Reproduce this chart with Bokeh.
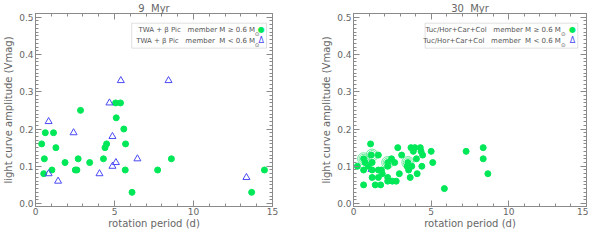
from bokeh.plotting import figure
from bokeh.layouts import row
from bokeh.models import (Range1d, SingleIntervalTicker, PrintfTickFormatter, LinearAxis,
                          CustomJSTickFormatter, BoxAnnotation, Label)
from bokeh.embed import file_html
from bokeh.resources import INLINE

# ---------------- data ----------------
# 9 Myr panel (TWA + beta Pic)
p9_hi_x = [0.39, 0.56, 0.52, 0.62, 1.04, 1.14, 1.29, 1.87, 2.52, 2.62, 2.70, 2.85, 3.43, 4.30,
           4.40, 4.50, 5.07, 5.38, 5.11, 5.59, 5.70, 5.68, 6.11, 7.73, 8.60, 13.68, 14.49]
p9_hi_y = [0.16, 0.12, 0.08, 0.19, 0.09, 0.19, 0.15, 0.11, 0.09, 0.09, 0.12, 0.25, 0.11, 0.12,
           0.15, 0.16, 0.27, 0.27, 0.23, 0.20, 0.16, 0.09, 0.03, 0.09, 0.12, 0.03, 0.09]
p9_lo_x = [0.83, 0.83, 1.43, 2.41, 4.05, 4.68, 4.87, 4.87, 5.09, 5.40, 6.45, 8.42, 13.35]
p9_lo_y = [0.22, 0.08, 0.06, 0.19, 0.08, 0.27, 0.18, 0.10, 0.11, 0.33, 0.12, 0.33, 0.07]

# 30 Myr panel (Tuc/Hor + Car + Col)
p30_hi_x = [0.25, 0.65, 0.65, 0.65, 0.75, 0.95, 1.10, 1.15, 1.20, 1.20, 1.20, 1.40, 1.60, 1.60,
            1.60, 1.75, 1.80, 1.85, 2.20, 2.20, 2.20, 2.20, 2.45, 2.50, 2.65, 2.75, 2.85, 2.95,
            3.10, 3.45, 3.50, 3.55, 3.65, 3.70, 3.75, 3.85, 3.95, 4.05, 4.10, 4.30, 4.35, 4.45,
            4.40, 5.00, 5.10, 5.85, 7.25, 8.35, 8.35, 8.65]
p30_hi_y = [0.10, 0.12, 0.09, 0.05, 0.11, 0.10, 0.16, 0.13, 0.11, 0.09, 0.07, 0.05, 0.13, 0.09,
            0.07, 0.05, 0.09, 0.08, 0.11, 0.10, 0.07, 0.06, 0.12, 0.06, 0.11, 0.06, 0.15, 0.08,
            0.13, 0.10, 0.11, 0.09, 0.07, 0.15, 0.10, 0.14, 0.15, 0.12, 0.08, 0.15, 0.14, 0.13,
            0.10, 0.14, 0.11, 0.04, 0.14, 0.15, 0.12, 0.08]
p30_ring_x = [0.65, 1.20, 2.20, 3.50]
p30_ring_y = [0.12, 0.13, 0.11, 0.11]
p30_lo_x = [1.10]
p30_lo_y = [0.09]

NB = "\u00a0"
titles = ["9  Myr", "30  Myr"]
legend_hi = ["TWA + \u03b2 Pic   member M \u2265 0.6 M", "Tuc/Hor+Car+Col   member M \u2265 0.6 M"]
legend_lo = ["TWA + \u03b2 Pic   member  M < 0.6 M", "Tuc/Hor+Car+Col   member  M < 0.6 M"]
x_label = "rotation period (d)"
y_label = "light curve amplitude (Vmag)"

GREEN = "#00e858"
BLUE = "#4a4af5"
RING = "#66ea98"
AX = "#8a8a8a"
TXT = "#666666"
FONT = "DejaVu Sans"


def nb(s):
    return s.replace(" ", NB)


def style_axis(ax, ticker, fmt=None, labels=True, std=2, lstd=1):
    ax.ticker = ticker
    ax.axis_line_color = AX
    ax.major_tick_line_color = AX
    ax.minor_tick_line_color = AX
    ax.major_tick_in = 6
    ax.major_tick_out = 0
    ax.minor_tick_in = 3
    ax.minor_tick_out = 0
    if labels:
        if fmt is not None:
            ax.formatter = fmt
        ax.major_label_text_font = FONT
        ax.major_label_text_font_size = "9px"
        ax.major_label_text_color = TXT
        ax.major_label_standoff = std
        ax.axis_label_text_font = FONT
        ax.axis_label_text_font_size = "10px"
        ax.axis_label_text_font_style = "normal"
        ax.axis_label_text_color = TXT
        ax.axis_label_standoff = lstd
    else:
        ax.formatter = CustomJSTickFormatter(code="return ''")
        ax.major_label_standoff = 0
        ax.major_label_text_font_size = "1px"


def make_panel(i, fw, mbl, mbr):
    p = figure(frame_width=fw, frame_height=193, output_backend="svg", toolbar_location=None,
               x_range=Range1d(0, 15), y_range=Range1d(-0.008, 0.51),
               min_border_left=mbl, min_border_right=mbr, min_border_top=11, min_border_bottom=25,
               x_axis_label=x_label, y_axis_label=nb(y_label))
    p.title.text = nb(titles[i])
    p.title.align = "center"
    p.title.text_font = FONT
    p.title.text_font_size = "10px"
    p.title.text_font_style = "normal"
    p.title.text_color = TXT
    p.title.standoff = 0
    p.title.offset = 0
    p.xgrid.visible = False
    p.ygrid.visible = False
    p.outline_line_color = AX
    p.background_fill_color = "white"
    p.border_fill_color = "white"
    style_axis(p.xaxis[0], SingleIntervalTicker(interval=5, num_minor_ticks=5), std=1, lstd=0)
    style_axis(p.yaxis[0], SingleIntervalTicker(interval=0.1, num_minor_ticks=10),
               PrintfTickFormatter(format="%.1f"), std=2, lstd=2)
    top = LinearAxis()
    style_axis(top, SingleIntervalTicker(interval=5, num_minor_ticks=5), labels=False)
    right = LinearAxis()
    style_axis(right, SingleIntervalTicker(interval=0.1, num_minor_ticks=10), labels=False)
    p.add_layout(top, "above")
    p.add_layout(right, "right")
    return p


def add_legend(p, i, box_l, box_r, text_x, sub_x, mark_x):
    p.add_layout(BoxAnnotation(left=box_l, right=box_r, top=0.484, bottom=0.417,
                               fill_color=None, line_color="#999999", line_width=1))
    for txt, ty, mark, mcol in [(legend_hi[i], 0.466, "\u25cf", GREEN),
                                 (legend_lo[i], 0.437, "\u0394", BLUE)]:
        p.add_layout(Label(x=text_x, y=ty, text=nb(txt), text_align="right",
                           text_baseline="middle", text_font=FONT, text_font_size="7px",
                           text_color="#555555"))
        p.add_layout(Label(x=sub_x, y=ty - 0.012, text="\u2299", text_align="center",
                           text_baseline="middle", text_font=FONT, text_font_size="5.5px",
                           text_color="#555555"))
        p.add_layout(Label(x=mark_x, y=ty, text=mark, text_align="center", text_baseline="middle",
                           text_font=FONT, text_font_size="8px", text_color=mcol))


p1 = make_panel(0, 237, 25, 40)
p1.scatter(p9_hi_x, p9_hi_y, marker="circle", size=6, fill_color=GREEN, line_color=GREEN)
p1.scatter(p9_lo_x, p9_lo_y, marker="triangle", size=7, fill_color=None, line_color=BLUE,
           line_width=1)
add_legend(p1, 0, 6.09, 14.62, 13.9, 14.03, 14.28)

p2 = make_panel(1, 233, 41, 2)
p2.scatter(p30_ring_x, p30_ring_y, marker="circle", size=12, fill_color=None, line_color=RING,
           line_width=1)
p2.scatter(p30_ring_x, p30_ring_y, marker="circle", size=9, fill_color=None, line_color=RING,
           line_width=1)
p2.scatter(p30_lo_x, p30_lo_y, marker="triangle", size=5, fill_color=None, line_color=BLUE,
           line_width=1)
p2.scatter(p30_hi_x, p30_hi_y, marker="circle", size=6, fill_color=GREEN, line_color=GREEN)
add_legend(p2, 1, 4.61, 14.44, 13.35, 13.5, 14.1)

layout = row(p1, p2)
open("out.html", "w").write(file_html(layout, INLINE))
